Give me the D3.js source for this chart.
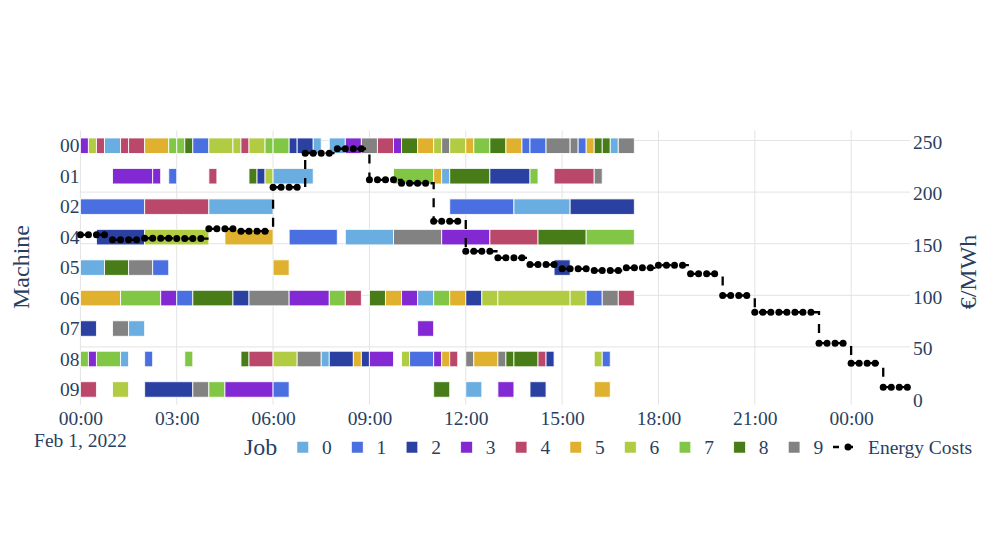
<!DOCTYPE html>
<html>
<head>
<meta charset="utf-8">
<script src="https://cdn.jsdelivr.net/npm/d3@7"></script>
<style>
  html, body { margin: 0; padding: 0; background: #fff; }
  svg { display: block; }
  text { font-family: "Liberation Serif", "Times New Roman", serif; fill: #2a3f5f; }
</style>
</head>
<body>
<svg id="chart" width="992" height="558"></svg>
<script>
// ---------- data ----------
const machines = ["00", "01", "02", "04", "05", "06", "07", "08", "09"];
const jobs = ["0", "1", "2", "3", "4", "5", "6", "7", "8", "9"];
const jobColors = ["#6aade0", "#4a6fe0", "#2b41a1", "#8229d3", "#b9486b", "#e0b12f", "#b1cb43", "#81c644", "#487c18", "#828282"];

// tasks per machine: [job, start, end]
const tasks00 = [[3,"00:00","00:15"],[6,"00:15","00:30"],[4,"00:30","00:45"],[0,"00:45","01:15"],[4,"01:15","01:30"],[4,"01:30","02:00"],[5,"02:00","02:45"],[7,"02:45","03:00"],[7,"03:00","03:15"],[8,"03:15","03:30"],[1,"03:30","04:00"],[6,"04:00","04:45"],[6,"04:45","05:00"],[4,"05:00","05:15"],[6,"05:15","05:45"],[7,"05:45","06:00"],[7,"06:00","06:30"],[2,"06:30","06:45"],[2,"06:45","07:15"],[0,"07:15","07:30"],[0,"07:45","08:15"],[3,"08:15","08:45"],[9,"08:45","09:15"],[4,"09:15","09:45"],[3,"09:45","10:00"],[8,"10:00","10:30"],[5,"10:30","11:00"],[6,"11:00","11:15"],[9,"11:15","11:30"],[6,"11:30","12:00"],[5,"12:00","12:15"],[7,"12:15","12:45"],[8,"12:45","13:15"],[5,"13:15","13:45"],[1,"13:45","14:00"],[1,"14:00","14:30"],[9,"14:30","15:15"],[9,"15:15","15:30"],[1,"15:30","15:45"],[5,"15:45","16:00"],[8,"16:00","16:15"],[8,"16:15","16:30"],[0,"16:30","16:45"],[9,"16:45","17:15"]];
const tasks01 = [[3,"01:00","02:15"],[3,"02:15","02:30"],[1,"02:45","03:00"],[4,"04:00","04:15"],[8,"05:15","05:30"],[2,"05:30","05:45"],[6,"05:45","06:00"],[0,"06:00","07:15"],[7,"09:45","11:00"],[5,"11:00","11:15"],[0,"11:15","11:30"],[8,"11:30","12:45"],[2,"12:45","14:00"],[7,"14:00","14:15"],[4,"14:45","16:00"],[9,"16:00","16:15"]];
const tasks02 = [[1,"00:00","02:00"],[4,"02:00","04:00"],[0,"04:00","06:00"],[1,"11:30","13:30"],[0,"13:30","15:15"],[2,"15:15","17:15"]];
const tasks04 = [[2,"00:30","02:00"],[6,"02:00","04:00"],[5,"04:30","06:00"],[1,"06:30","08:00"],[0,"08:15","09:45"],[9,"09:45","11:15"],[3,"11:15","12:45"],[4,"12:45","14:15"],[8,"14:15","15:45"],[7,"15:45","17:15"]];
const tasks05 = [[0,"00:00","00:45"],[8,"00:45","01:30"],[9,"01:30","02:15"],[1,"02:15","02:45"],[5,"06:00","06:30"],[2,"14:45","15:15"]];
const tasks06 = [[5,"00:00","01:15"],[7,"01:15","02:30"],[3,"02:30","03:00"],[1,"03:00","03:30"],[8,"03:30","04:45"],[2,"04:45","05:15"],[9,"05:15","06:30"],[3,"06:30","07:45"],[7,"07:45","08:15"],[4,"08:15","08:45"],[8,"09:00","09:30"],[5,"09:30","10:00"],[3,"10:00","10:30"],[0,"10:30","11:00"],[7,"11:00","11:30"],[5,"11:30","12:00"],[2,"12:00","12:30"],[6,"12:30","13:00"],[6,"13:00","15:15"],[6,"15:15","15:45"],[1,"15:45","16:15"],[9,"16:15","16:45"],[4,"16:45","17:15"]];
const tasks07 = [[2,"00:00","00:30"],[9,"01:00","01:30"],[0,"01:30","02:00"],[3,"10:30","11:00"]];
const tasks08 = [[7,"00:00","00:15"],[3,"00:15","00:30"],[7,"00:30","01:15"],[0,"01:15","01:30"],[1,"02:00","02:15"],[7,"03:15","03:30"],[8,"05:00","05:15"],[4,"05:15","06:00"],[6,"06:00","06:45"],[9,"06:45","07:30"],[0,"07:30","07:45"],[2,"07:45","08:30"],[5,"08:30","08:45"],[2,"08:45","09:00"],[3,"09:00","09:45"],[6,"10:00","10:15"],[1,"10:15","11:00"],[3,"11:00","11:15"],[5,"11:15","11:30"],[4,"11:30","11:45"],[9,"12:00","12:15"],[5,"12:15","13:00"],[9,"13:00","13:15"],[8,"13:15","13:30"],[8,"13:30","14:15"],[4,"14:15","14:30"],[2,"14:30","14:45"],[6,"16:00","16:15"],[1,"16:15","16:30"]];
const tasks09 = [[4,"00:00","00:30"],[6,"01:00","01:30"],[2,"02:00","03:30"],[9,"03:30","04:00"],[7,"04:00","04:30"],[3,"04:30","06:00"],[1,"06:00","06:30"],[8,"11:00","11:30"],[0,"12:00","12:30"],[3,"13:00","13:30"],[2,"14:00","14:30"],[5,"16:00","16:30"]];
const tasksByMachine = [tasks00, tasks01, tasks02, tasks04, tasks05, tasks06, tasks07, tasks08, tasks09];

// energy costs (€/MWh), one value every 15 minutes from Feb 1, 2022 00:00
const energyStart = "2022-02-01 00:00";
const energyStepMinutes = 15;
const energyCosts = [
  158.6, 158.6, 158.6, 158.6,
  153.8, 153.8, 153.8, 153.8,
  155.3, 155.3, 155.3, 155.3,
  155.0, 155.0, 155.0, 155.0,
  164.4, 164.4, 164.4, 164.4,
  162.1, 162.1, 162.1, 162.1,
  204.7, 204.7, 204.7, 204.7,
  237.7, 237.7, 237.7, 237.7,
  242.0, 242.0, 242.0, 242.0,
  211.9, 211.9, 211.9, 211.9,
  208.6, 208.6, 208.6, 208.6,
  171.8, 171.8, 171.8, 171.8,
  142.7, 142.7, 142.7, 142.7,
  136.3, 136.3, 136.3, 136.3,
  129.8, 129.8, 129.8, 129.8,
  125.7, 125.7, 125.7, 125.7,
  124.0, 124.0, 124.0, 124.0,
  126.6, 126.6, 126.6, 126.6,
  129.2, 129.2, 129.2, 129.2,
  120.8, 120.8, 120.8, 120.8,
  99.8, 99.8, 99.8, 99.8,
  83.6, 83.6, 83.6, 83.6,
  83.6, 83.6, 83.6, 83.6,
  53.6, 53.6, 53.6, 53.6,
  34.2, 34.2, 34.2, 34.2,
  11.0, 11.0, 11.0, 11.0
];

const xTickTimes = ["2022-02-01 00:00","2022-02-01 03:00","2022-02-01 06:00","2022-02-01 09:00","2022-02-01 12:00","2022-02-01 15:00","2022-02-01 18:00","2022-02-01 21:00","2022-02-02 00:00"];
const y2Ticks = [0, 50, 100, 150, 200, 250];

// ---------- setup ----------
const parse = d3.timeParse("%Y-%m-%d %H:%M");
const day = "2022-02-01 ";
const svg = d3.select("#chart");

const plotLeft = 80.4, plotRight = 910, plotTop = 130.5, plotBottom = 404.7;
const x = d3.scaleTime()
  .domain([parse("2022-02-01 00:00"), parse("2022-02-02 01:50")])
  .range([plotLeft, plotRight]);
const y = d3.scalePoint().domain(machines).range([plotTop, plotBottom]).padding(0.5);
const barH = y.step() * 0.51;
const y2 = d3.scaleLinear().domain([0, 250]).range([398.5, 140.5]);
const color = d3.scaleOrdinal().domain(jobs).range(jobColors);

const gridColor = "#e3e3e3";

// grid
const grid = svg.append("g");
grid.selectAll("line.vg").data(xTickTimes.map(parse)).join("line")
  .attr("x1", d => x(d)).attr("x2", d => x(d))
  .attr("y1", plotTop).attr("y2", plotBottom)
  .attr("stroke", gridColor).attr("stroke-width", 1);
grid.selectAll("line.hg").data(y2Ticks.filter(v => v > 0)).join("line")
  .attr("x1", plotLeft).attr("x2", plotRight)
  .attr("y1", d => y2(d)).attr("y2", d => y2(d))
  .attr("stroke", gridColor).attr("stroke-width", 1);

// bars
const allTasks = [];
tasksByMachine.forEach((list, i) => list.forEach(t => allTasks.push({
  machine: machines[i], job: String(t[0]), start: parse(day + t[1]), end: parse(day + t[2])
})));
svg.append("g").selectAll("rect").data(allTasks).join("rect")
  .attr("x", d => x(d.start))
  .attr("width", d => x(d.end) - x(d.start))
  .attr("y", d => y(d.machine) - barH / 2)
  .attr("height", barH)
  .attr("fill", d => color(d.job))
  .attr("stroke", "#ffffff").attr("stroke-opacity", 0.85).attr("stroke-width", 1);

// energy line
const t0 = parse(energyStart);
const energy = energyCosts.map((v, i) => ({ t: d3.timeMinute.offset(t0, i * energyStepMinutes), v }));
const line = d3.line().x(d => x(d.t)).y(d => y2(d.v)).curve(d3.curveStepAfter);
svg.append("path").datum(energy)
  .attr("d", line).attr("fill", "none")
  .attr("stroke", "#000").attr("stroke-width", 2.3)
  .attr("stroke-dasharray", "9,9");
svg.append("g").selectAll("circle").data(energy).join("circle")
  .attr("cx", d => x(d.t)).attr("cy", d => y2(d.v)).attr("r", 3.5).attr("fill", "#000");

// axes
const fs = 19.5;
const xAxis = svg.append("g").attr("transform", `translate(0,${plotBottom})`)
  .call(d3.axisBottom(x).tickValues(xTickTimes.map(parse)).tickFormat(d3.timeFormat("%H:%M")).tickSize(0).tickPadding(6));
xAxis.select(".domain").remove();
xAxis.selectAll("text").style("font-size", fs + "px").attr("fill", "#2a3f5f")
  .style("font-family", '"Liberation Serif", serif');
svg.append("text").attr("x", x(parse("2022-02-01 00:00"))).attr("y", 447)
  .attr("text-anchor", "middle").style("font-size", fs + "px").text("Feb 1, 2022");

const yAxis = svg.append("g").attr("transform", `translate(${plotLeft},0)`)
  .call(d3.axisLeft(y).tickSize(0).tickPadding(1));
yAxis.select(".domain").remove();
yAxis.selectAll("text").style("font-size", fs + "px").attr("fill", "#2a3f5f")
  .style("font-family", '"Liberation Serif", serif');

const y2Axis = svg.append("g").attr("transform", `translate(${plotRight},1.5)`)
  .call(d3.axisRight(y2).tickValues(y2Ticks).tickSize(0).tickPadding(3));
y2Axis.select(".domain").remove();
y2Axis.selectAll("text").style("font-size", fs + "px").attr("fill", "#2a3f5f")
  .style("font-family", '"Liberation Serif", serif');

svg.append("text").attr("transform", "translate(29,267) rotate(-90)")
  .attr("text-anchor", "middle").style("font-size", "24px").text("Machine");
svg.append("text").attr("transform", "translate(976,272) rotate(-90)")
  .attr("text-anchor", "middle").style("font-size", "24px").text("€/MWh");

// legend
const lg = svg.append("g");
lg.append("text").attr("x", 244).attr("y", 455).style("font-size", "24px").text("Job");
const itemStep = 54.6;
const items = lg.selectAll("g.item").data(jobs).join("g")
  .attr("transform", (d, i) => `translate(${297 + i * itemStep},0)`);
items.append("rect").attr("x", 0).attr("y", 441.5).attr("width", 11.5).attr("height", 11.5)
  .attr("fill", d => color(d)).attr("stroke", "#fff").attr("stroke-width", 0.5);
items.append("text").attr("x", 25).attr("y", 454).style("font-size", fs + "px").text(d => d);
const ex = 833;
lg.append("line").attr("x1", ex).attr("x2", ex + 27).attr("y1", 447).attr("y2", 447)
  .attr("stroke", "#000").attr("stroke-width", 2.3).attr("stroke-dasharray", "6,8");
lg.append("circle").attr("cx", ex + 15).attr("cy", 447).attr("r", 3.5).attr("fill", "#000");
lg.append("text").attr("x", 868).attr("y", 454).style("font-size", fs + "px").text("Energy Costs");
</script>
</body>
</html>
